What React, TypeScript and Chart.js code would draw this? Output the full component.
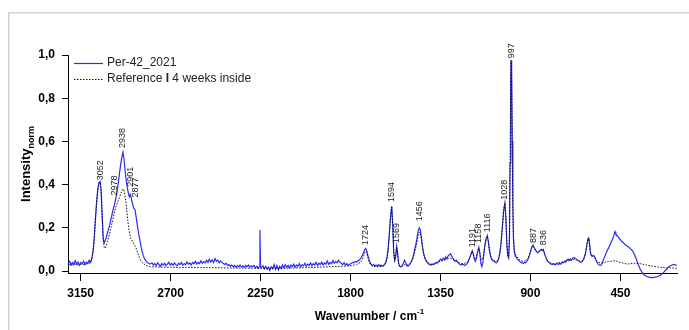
import React, { useEffect, useRef } from "react";
import { Chart, registerables } from "chart.js";

Chart.register(...registerables);

const FONT = "'Liberation Sans', Arial, Helvetica, sans-serif";

const xTickValues = [3150, 2700, 2250, 1800, 1350, 900, 450];
const yTickValues = [0, 0.2, 0.4, 0.6, 0.8, 1.0];
const seriesNames = ["Per-42_2021", "Reference I 4 weeks inside"];
const xAxisTitle = "Wavenumber / cm";
const xAxisTitleSup = "-1";
const yAxisTitle = "Intensity";
const yAxisTitleSub = "norm";

const peakWavenumbers = [3052, 2978, 2938, 2901, 2877, 1724, 1594, 1569, 1456, 1191, 1158, 1116, 1028, 997, 887, 836];
const peakLabelHeights = [0.42, 0.35, 0.57, 0.39, 0.34, 0.12, 0.32, 0.13, 0.23, 0.11, 0.13, 0.18, 0.33, 0.985, 0.13, 0.12];

const X_MIN = 167;
const X_MAX = 3213;
const Y_MIN = -0.009;
const Y_MAX = 1.0;

// Per-42_2021 (blue)
const perSpectrum: [number, number][] = [
  [3212, 0.035], [3205, 0.045], [3198, 0.028], [3191, 0.040], [3184, 0.030], [3177, 0.048], [3170, 0.032], [3163, 0.042],
  [3156, 0.027], [3149, 0.040], [3142, 0.034], [3135, 0.046], [3128, 0.030], [3121, 0.041], [3114, 0.036], [3107, 0.050],
  [3100, 0.040], [3094, 0.060], [3088, 0.090], [3082, 0.150], [3076, 0.240], [3070, 0.320], [3064, 0.380], [3058, 0.410],
  [3052, 0.415], [3047, 0.370], [3042, 0.260], [3037, 0.150], [3032, 0.130], [3027, 0.140], [3022, 0.155], [3016, 0.175],
  [3010, 0.195], [3004, 0.215], [2998, 0.240], [2992, 0.265], [2986, 0.290], [2980, 0.310], [2974, 0.335], [2968, 0.365],
  [2962, 0.405], [2956, 0.450], [2950, 0.490], [2944, 0.525], [2938, 0.550], [2933, 0.520], [2928, 0.470], [2922, 0.420],
  [2916, 0.385], [2911, 0.360], [2906, 0.345], [2901, 0.355], [2896, 0.335], [2890, 0.310], [2884, 0.290], [2878, 0.285],
  [2872, 0.250], [2866, 0.210], [2860, 0.175], [2854, 0.145], [2848, 0.115], [2842, 0.090], [2836, 0.070], [2830, 0.056],
  [2824, 0.048], [2817, 0.040], [2810, 0.036], [2803, 0.032], [2793, 0.038], [2786, 0.028], [2779, 0.035], [2772, 0.025],
  [2765, 0.038], [2758, 0.030], [2751, 0.022], [2744, 0.035], [2737, 0.028], [2730, 0.036], [2723, 0.025], [2716, 0.032],
  [2709, 0.040], [2702, 0.028], [2695, 0.035], [2688, 0.026], [2681, 0.038], [2674, 0.030], [2667, 0.024], [2660, 0.036],
  [2653, 0.030], [2646, 0.040], [2639, 0.027], [2632, 0.034], [2625, 0.030], [2618, 0.042], [2611, 0.032], [2604, 0.038],
  [2597, 0.028], [2590, 0.040], [2583, 0.034], [2576, 0.045], [2569, 0.032], [2562, 0.040], [2555, 0.035], [2548, 0.048],
  [2541, 0.036], [2534, 0.044], [2527, 0.038], [2520, 0.050], [2513, 0.040], [2506, 0.055], [2499, 0.042], [2492, 0.052],
  [2485, 0.040], [2478, 0.058], [2471, 0.045], [2464, 0.050], [2457, 0.038], [2450, 0.047], [2443, 0.040], [2436, 0.035],
  [2429, 0.030], [2422, 0.036], [2415, 0.025], [2408, 0.030], [2401, 0.022], [2394, 0.028], [2387, 0.020], [2380, 0.026],
  [2373, 0.018], [2366, 0.025], [2359, 0.020], [2352, 0.028], [2345, 0.019], [2338, 0.024], [2331, 0.017], [2324, 0.026],
  [2317, 0.020], [2310, 0.028], [2303, 0.018], [2296, 0.024], [2289, 0.020], [2282, 0.026], [2275, 0.015], [2268, 0.022],
  [2261, 0.012], [2256, 0.020], [2253, 0.190], [2250, 0.020], [2245, 0.015], [2238, 0.025], [2231, 0.010], [2224, 0.022],
  [2217, 0.008], [2210, 0.018], [2203, 0.003], [2196, 0.020], [2189, 0.010], [2182, 0.030], [2175, 0.008], [2168, 0.025],
  [2161, 0.005], [2154, 0.022], [2147, 0.012], [2140, 0.028], [2133, 0.015], [2126, 0.030], [2119, 0.018], [2112, 0.026],
  [2105, 0.014], [2098, 0.028], [2091, 0.020], [2084, 0.032], [2077, 0.018], [2070, 0.028], [2063, 0.022], [2056, 0.034],
  [2049, 0.020], [2042, 0.030], [2035, 0.024], [2028, 0.036], [2021, 0.022], [2014, 0.032], [2007, 0.026], [2000, 0.038],
  [1993, 0.024], [1986, 0.034], [1979, 0.028], [1972, 0.040], [1965, 0.026], [1958, 0.036], [1951, 0.030], [1944, 0.042],
  [1937, 0.028], [1930, 0.038], [1923, 0.032], [1916, 0.046], [1909, 0.030], [1902, 0.040], [1895, 0.034], [1888, 0.048],
  [1881, 0.036], [1874, 0.044], [1867, 0.038], [1860, 0.050], [1853, 0.040], [1846, 0.036], [1839, 0.030], [1832, 0.038],
  [1825, 0.028], [1818, 0.034], [1811, 0.026], [1804, 0.032], [1797, 0.035], [1790, 0.040], [1783, 0.038], [1776, 0.044],
  [1769, 0.042], [1762, 0.048], [1755, 0.052], [1748, 0.060], [1741, 0.072], [1735, 0.085], [1729, 0.098], [1724, 0.105],
  [1719, 0.095], [1714, 0.075], [1708, 0.055], [1702, 0.040], [1696, 0.030], [1690, 0.026], [1684, 0.030], [1678, 0.024],
  [1672, 0.028], [1666, 0.022], [1660, 0.030], [1654, 0.024], [1648, 0.028], [1642, 0.022], [1636, 0.026], [1630, 0.030],
  [1624, 0.040], [1618, 0.060], [1612, 0.100], [1606, 0.170], [1600, 0.250], [1594, 0.300], [1589, 0.220], [1584, 0.090],
  [1579, 0.050], [1574, 0.070], [1569, 0.115], [1564, 0.080], [1559, 0.035], [1554, 0.022], [1548, 0.020], [1542, 0.025],
  [1536, 0.035], [1530, 0.050], [1525, 0.040], [1519, 0.025], [1513, 0.022], [1507, 0.028], [1501, 0.035], [1495, 0.045],
  [1489, 0.060], [1484, 0.080], [1479, 0.100], [1474, 0.120], [1468, 0.150], [1462, 0.185], [1456, 0.200], [1451, 0.190],
  [1446, 0.160], [1441, 0.120], [1436, 0.090], [1431, 0.070], [1426, 0.055], [1420, 0.045], [1414, 0.038], [1408, 0.032],
  [1402, 0.030], [1396, 0.028], [1390, 0.032], [1384, 0.030], [1378, 0.035], [1372, 0.040], [1366, 0.038], [1360, 0.045],
  [1354, 0.050], [1348, 0.055], [1342, 0.048], [1336, 0.060], [1330, 0.052], [1324, 0.065], [1318, 0.058], [1312, 0.070],
  [1306, 0.075], [1300, 0.080], [1294, 0.070], [1288, 0.060], [1282, 0.052], [1276, 0.045], [1270, 0.050], [1264, 0.040],
  [1258, 0.035], [1252, 0.030], [1246, 0.028], [1240, 0.032], [1234, 0.030], [1228, 0.026], [1222, 0.030], [1216, 0.035],
  [1210, 0.045], [1204, 0.060], [1197, 0.080], [1191, 0.095], [1186, 0.080], [1181, 0.055], [1176, 0.045], [1170, 0.060],
  [1164, 0.090], [1158, 0.110], [1153, 0.080], [1148, 0.035], [1143, 0.020], [1138, 0.040], [1133, 0.080], [1128, 0.120],
  [1122, 0.150], [1116, 0.165], [1111, 0.140], [1106, 0.100], [1100, 0.070], [1094, 0.055], [1088, 0.048], [1082, 0.045],
  [1076, 0.040], [1070, 0.038], [1064, 0.045], [1058, 0.060], [1052, 0.090], [1046, 0.140], [1040, 0.210], [1034, 0.280],
  [1028, 0.315], [1023, 0.250], [1018, 0.120], [1013, 0.070], [1009, 0.060], [1005, 0.150], [1002, 0.500], [999, 0.850],
  [997, 0.975], [994, 0.900], [991, 0.600], [988, 0.300], [985, 0.150], [981, 0.090], [976, 0.070], [971, 0.065],
  [966, 0.055], [960, 0.050], [954, 0.045], [948, 0.040], [942, 0.038], [936, 0.035], [930, 0.040], [924, 0.038],
  [918, 0.045], [912, 0.055], [906, 0.070], [900, 0.090], [894, 0.110], [887, 0.120], [882, 0.110], [876, 0.100],
  [870, 0.090], [864, 0.085], [858, 0.090], [852, 0.095], [846, 0.100], [841, 0.095], [836, 0.100], [831, 0.085],
  [826, 0.070], [820, 0.055], [814, 0.045], [808, 0.040], [802, 0.035], [796, 0.032], [790, 0.030], [784, 0.034],
  [778, 0.028], [772, 0.032], [766, 0.036], [760, 0.030], [754, 0.036], [748, 0.032], [742, 0.040], [736, 0.038],
  [730, 0.045], [724, 0.040], [718, 0.050], [712, 0.055], [706, 0.048], [700, 0.056], [694, 0.052], [688, 0.060],
  [682, 0.063], [676, 0.058], [670, 0.055], [664, 0.050], [658, 0.046], [652, 0.042], [646, 0.040], [640, 0.045],
  [634, 0.055], [628, 0.070], [622, 0.095], [617, 0.125], [612, 0.150], [608, 0.152], [604, 0.120], [600, 0.085],
  [596, 0.072], [591, 0.068], [586, 0.072], [580, 0.068], [574, 0.055], [568, 0.042], [562, 0.032], [556, 0.028],
  [550, 0.026], [546, 0.028], [540, 0.040], [534, 0.055], [528, 0.068], [522, 0.082], [516, 0.095], [510, 0.105],
  [504, 0.118], [498, 0.130], [492, 0.142], [486, 0.155], [481, 0.170], [477, 0.182], [473, 0.172], [468, 0.165],
  [462, 0.160], [456, 0.150], [450, 0.145], [444, 0.138], [438, 0.133], [432, 0.128], [426, 0.122], [420, 0.118],
  [414, 0.115], [408, 0.110], [402, 0.105], [396, 0.100], [390, 0.095], [384, 0.085], [378, 0.072], [372, 0.058],
  [366, 0.042], [360, 0.028], [354, 0.015], [348, 0.004], [342, -0.006], [336, -0.013], [330, -0.018], [324, -0.022],
  [318, -0.025], [312, -0.027], [306, -0.028], [300, -0.029], [294, -0.030], [288, -0.030], [282, -0.029], [276, -0.028],
  [270, -0.027], [264, -0.025], [258, -0.023], [252, -0.020], [246, -0.016], [240, -0.012], [234, -0.006], [228, 0.000],
  [222, 0.006], [216, 0.012], [210, 0.018], [204, 0.022], [198, 0.026], [192, 0.028], [186, 0.030], [180, 0.030],
  [174, 0.028], [168, 0.026],
];

// Reference I 4 weeks inside (black dotted)
const referenceSpectrum: [number, number][] = [
  [3212, 0.030], [3195, 0.028], [3180, 0.032], [3165, 0.029], [3150, 0.031], [3135, 0.030], [3120, 0.033], [3108, 0.036],
  [3100, 0.040], [3094, 0.055], [3088, 0.085], [3082, 0.140], [3076, 0.230], [3070, 0.310], [3064, 0.370], [3058, 0.405],
  [3052, 0.410], [3047, 0.360], [3042, 0.240], [3037, 0.150], [3032, 0.110], [3027, 0.105], [3022, 0.115], [3016, 0.135],
  [3010, 0.155], [3004, 0.175], [2998, 0.200], [2992, 0.225], [2986, 0.250], [2980, 0.275], [2974, 0.295], [2968, 0.310],
  [2962, 0.325], [2956, 0.340], [2950, 0.355], [2944, 0.370], [2938, 0.380], [2933, 0.375], [2928, 0.350], [2922, 0.310],
  [2916, 0.255], [2910, 0.200], [2904, 0.170], [2898, 0.150], [2892, 0.140], [2886, 0.130], [2880, 0.120], [2874, 0.110],
  [2868, 0.095], [2862, 0.078], [2856, 0.062], [2850, 0.050], [2844, 0.042], [2836, 0.035], [2826, 0.028], [2815, 0.024],
  [2800, 0.020], [2780, 0.020], [2740, 0.018], [2700, 0.017], [2650, 0.016], [2600, 0.017], [2550, 0.016], [2500, 0.016],
  [2450, 0.015], [2400, 0.014], [2350, 0.014], [2300, 0.013], [2250, 0.013], [2200, 0.013], [2150, 0.013], [2100, 0.014],
  [2050, 0.015], [2000, 0.016], [1950, 0.018], [1900, 0.020], [1850, 0.022], [1810, 0.024], [1790, 0.026], [1770, 0.030],
  [1750, 0.040], [1740, 0.055], [1734, 0.070], [1729, 0.085], [1724, 0.092], [1719, 0.085], [1714, 0.065], [1708, 0.045],
  [1702, 0.032], [1695, 0.025], [1685, 0.022], [1670, 0.020], [1655, 0.020], [1640, 0.022], [1630, 0.026], [1624, 0.035],
  [1618, 0.055], [1612, 0.095], [1606, 0.165], [1600, 0.245], [1594, 0.295], [1589, 0.215], [1584, 0.085], [1579, 0.045],
  [1574, 0.065], [1569, 0.110], [1564, 0.075], [1559, 0.032], [1554, 0.022], [1545, 0.020], [1536, 0.025], [1528, 0.030],
  [1520, 0.028], [1510, 0.028], [1500, 0.035], [1492, 0.048], [1485, 0.065], [1478, 0.090], [1472, 0.115], [1466, 0.140],
  [1461, 0.165], [1456, 0.180], [1451, 0.175], [1446, 0.150], [1441, 0.115], [1436, 0.085], [1430, 0.065], [1424, 0.052],
  [1416, 0.042], [1408, 0.036], [1400, 0.032], [1390, 0.032], [1380, 0.034], [1370, 0.036], [1360, 0.040], [1350, 0.045],
  [1340, 0.048], [1330, 0.052], [1320, 0.055], [1310, 0.058], [1300, 0.058], [1290, 0.055], [1280, 0.050], [1270, 0.045],
  [1260, 0.040], [1250, 0.036], [1240, 0.035], [1230, 0.036], [1220, 0.040], [1212, 0.048], [1205, 0.060], [1198, 0.075],
  [1191, 0.090], [1186, 0.078], [1181, 0.060], [1176, 0.055], [1170, 0.065], [1164, 0.090], [1158, 0.105], [1153, 0.085],
  [1148, 0.060], [1143, 0.052], [1138, 0.060], [1133, 0.085], [1128, 0.115], [1122, 0.145], [1116, 0.160], [1111, 0.140],
  [1106, 0.105], [1100, 0.075], [1094, 0.060], [1088, 0.052], [1080, 0.048], [1072, 0.046], [1064, 0.050], [1058, 0.062],
  [1052, 0.090], [1046, 0.140], [1040, 0.210], [1034, 0.280], [1028, 0.315], [1023, 0.250], [1018, 0.125], [1013, 0.075],
  [1009, 0.065], [1005, 0.150], [1002, 0.500], [999, 0.850], [997, 0.975], [994, 0.900], [991, 0.600], [988, 0.300],
  [985, 0.160], [981, 0.100], [976, 0.080], [971, 0.072], [966, 0.065], [960, 0.058], [954, 0.052], [948, 0.048],
  [942, 0.046], [936, 0.045], [930, 0.046], [924, 0.048], [918, 0.052], [912, 0.060], [906, 0.072], [900, 0.088],
  [894, 0.105], [887, 0.115], [882, 0.108], [876, 0.098], [870, 0.090], [864, 0.085], [858, 0.088], [852, 0.092],
  [846, 0.098], [841, 0.094], [836, 0.098], [831, 0.085], [826, 0.072], [820, 0.058], [814, 0.048], [808, 0.042],
  [800, 0.038], [790, 0.035], [780, 0.034], [770, 0.036], [760, 0.038], [750, 0.040], [740, 0.042], [730, 0.045],
  [720, 0.048], [710, 0.050], [700, 0.050], [690, 0.052], [680, 0.055], [670, 0.052], [660, 0.048], [650, 0.045],
  [640, 0.048], [634, 0.056], [628, 0.072], [622, 0.098], [617, 0.128], [612, 0.152], [608, 0.155], [604, 0.125],
  [600, 0.090], [596, 0.075], [591, 0.070], [586, 0.072], [580, 0.065], [574, 0.055], [568, 0.045], [560, 0.040],
  [550, 0.038], [540, 0.038], [530, 0.040], [520, 0.042], [510, 0.044], [500, 0.045], [490, 0.046], [480, 0.048],
  [470, 0.046], [460, 0.042], [450, 0.040], [440, 0.038], [430, 0.035], [420, 0.033], [410, 0.033], [400, 0.034],
  [390, 0.035], [380, 0.036], [370, 0.036], [360, 0.035], [350, 0.034], [340, 0.032], [330, 0.030], [320, 0.028],
  [310, 0.026], [300, 0.024], [290, 0.022], [280, 0.021], [270, 0.020], [260, 0.019], [250, 0.018], [240, 0.017],
  [230, 0.016], [220, 0.015], [210, 0.015], [200, 0.014], [190, 0.014], [180, 0.013], [168, 0.013],
];

const BLUE = "#2a2aff";
const BLACK = "#111111";

const decorPlugin = {
  id: "decor",
  beforeDraw(chart: any) {
    const ctx = chart.ctx;
    ctx.save();
    ctx.fillStyle = "#ffffff";
    ctx.fillRect(0, 0, chart.width, chart.height);
    ctx.lineWidth = 1;
    ctx.strokeStyle = "#cfcfcf";
    ctx.beginPath();
    ctx.moveTo(8.5, chart.height);
    ctx.lineTo(8.5, 12.5);
    ctx.lineTo(chart.width, 12.5);
    ctx.stroke();
    ctx.strokeStyle = "#ebebeb";
    ctx.beginPath();
    ctx.moveTo(9.5, chart.height);
    ctx.lineTo(9.5, 13.5);
    ctx.lineTo(chart.width, 13.5);
    ctx.stroke();
    ctx.restore();
  },
  afterDraw(chart: any) {
    const ctx = chart.ctx;
    const x = chart.scales.x;
    const y = chart.scales.y;
    const area = chart.chartArea;

    // peak labels
    ctx.save();
    ctx.font = `9px ${FONT}`;
    ctx.fillStyle = "#222222";
    ctx.textAlign = "left";
    ctx.textBaseline = "middle";
    peakWavenumbers.forEach((wn, i) => {
      const px = x.getPixelForValue(wn);
      const py = y.getPixelForValue(peakLabelHeights[i]);
      ctx.save();
      ctx.translate(px, py);
      ctx.rotate(-Math.PI / 2);
      ctx.fillText(String(wn), 0, 0);
      ctx.restore();
    });
    ctx.restore();

    // legend
    ctx.save();
    const lx0 = 74;
    const lx1 = 103;
    const tx = 107;
    const row1 = 63;
    const row2 = 79;
    ctx.strokeStyle = BLUE;
    ctx.lineWidth = 1.2;
    ctx.beginPath();
    ctx.moveTo(lx0, row1 + 0.5);
    ctx.lineTo(lx1, row1 + 0.5);
    ctx.stroke();
    ctx.strokeStyle = BLACK;
    ctx.lineWidth = 1;
    ctx.setLineDash([1.5, 1.5]);
    ctx.beginPath();
    ctx.moveTo(lx0, row2 + 0.5);
    ctx.lineTo(lx1, row2 + 0.5);
    ctx.stroke();
    ctx.setLineDash([]);
    ctx.fillStyle = "#222222";
    ctx.textAlign = "left";
    ctx.textBaseline = "middle";
    ctx.font = `12px ${FONT}`;
    ctx.fillText(seriesNames[0], tx, row1);
    const name2 = seriesNames[1];
    const sepIdx = name2.indexOf(" I ");
    const partA = name2.slice(0, sepIdx + 1);
    const partB = "I";
    const partC = name2.slice(sepIdx + 2);
    let cx = tx;
    ctx.font = `12px ${FONT}`;
    ctx.fillText(partA, cx, row2);
    cx += ctx.measureText(partA).width;
    ctx.font = `bold 12px ${FONT}`;
    ctx.fillText(partB, cx, row2);
    cx += ctx.measureText(partB).width;
    ctx.font = `12px ${FONT}`;
    ctx.fillText(partC, cx, row2);
    ctx.restore();

    // y axis title
    ctx.save();
    ctx.fillStyle = "#000000";
    ctx.translate(25, (area.top + area.bottom) / 2);
    ctx.rotate(-Math.PI / 2);
    ctx.textAlign = "left";
    ctx.textBaseline = "alphabetic";
    ctx.font = `bold 13px ${FONT}`;
    const w1 = ctx.measureText(yAxisTitle).width;
    ctx.font = `bold 9px ${FONT}`;
    const w2 = ctx.measureText(yAxisTitleSub).width;
    const start = -(w1 + w2) / 2;
    ctx.font = `bold 13px ${FONT}`;
    ctx.fillText(yAxisTitle, start, 5);
    ctx.font = `bold 9px ${FONT}`;
    ctx.fillText(yAxisTitleSub, start + w1, 8.5);
    ctx.restore();

    // x axis title
    ctx.save();
    ctx.fillStyle = "#000000";
    ctx.textAlign = "left";
    ctx.textBaseline = "alphabetic";
    ctx.font = `bold 12px ${FONT}`;
    const m1 = ctx.measureText(xAxisTitle).width;
    ctx.font = `bold 8px ${FONT}`;
    const m2 = ctx.measureText(xAxisTitleSup).width;
    const sx = (area.left + area.right) / 2 - (m1 + m2) / 2 - 3;
    ctx.font = `bold 12px ${FONT}`;
    ctx.fillText(xAxisTitle, sx, 320);
    ctx.font = `bold 8px ${FONT}`;
    ctx.fillText(xAxisTitleSup, sx + m1, 314);
    ctx.restore();
  },
};

export default function App() {
  const canvasRef = useRef<HTMLCanvasElement | null>(null);

  useEffect(() => {
    const canvas = canvasRef.current;
    if (!canvas) return;
    const tickFont = { family: FONT, size: 12, weight: "bold" as const };
    const chart = new Chart(canvas, {
      type: "line",
      data: {
        datasets: [
          {
            label: seriesNames[1],
            data: referenceSpectrum.map(([wx, wy]) => ({ x: wx, y: wy })),
            borderColor: BLACK,
            borderWidth: 1,
            borderDash: [1.5, 1.5],
            pointRadius: 0,
            tension: 0,
            order: 0,
            clip: false as any,
          },
          {
            label: seriesNames[0],
            data: perSpectrum.map(([wx, wy]) => ({ x: wx, y: wy })),
            borderColor: BLUE,
            borderWidth: 1.2,
            pointRadius: 0,
            tension: 0,
            order: 1,
            clip: false as any,
          },
        ],
      },
      options: {
        responsive: false,
        animation: false,
        devicePixelRatio: 1,
        layout: { padding: { top: 55, right: 12, left: 0, bottom: 0 } },
        plugins: {
          legend: { display: false },
          tooltip: { enabled: false },
          title: { display: false },
        },
        scales: {
          x: {
            type: "linear",
            reverse: true,
            min: X_MIN,
            max: X_MAX,
            afterFit: (s: any) => {
              s.height = 57;
            },
            afterBuildTicks: (s: any) => {
              s.ticks = xTickValues.map((v) => ({ value: v }));
            },
            grid: {
              display: true,
              drawOnChartArea: false,
              drawTicks: true,
              tickLength: 8,
              color: "#000000",
              lineWidth: 1,
            },
            border: { display: true, color: "#000000", width: 1 },
            ticks: {
              font: tickFont,
              color: "#000000",
              padding: 5,
              maxRotation: 0,
              autoSkip: false,
              callback: (v: any) => String(v),
            },
          },
          y: {
            type: "linear",
            min: Y_MIN,
            max: Y_MAX,
            afterFit: (s: any) => {
              s.width = 68;
            },
            afterBuildTicks: (s: any) => {
              s.ticks = yTickValues.map((v) => ({ value: v }));
            },
            grid: {
              display: true,
              drawOnChartArea: false,
              drawTicks: true,
              tickLength: 6,
              color: "#000000",
              lineWidth: 1,
            },
            border: { display: true, color: "#000000", width: 1 },
            ticks: {
              font: tickFont,
              color: "#000000",
              padding: 7,
              callback: (v: any) => Number(v).toFixed(1).replace(".", ","),
            },
          },
        },
      },
      plugins: [decorPlugin],
    } as any);
    return () => {
      chart.destroy();
    };
  }, []);

  return (
    <div style={{ position: "fixed", left: 0, top: 0, width: 689, height: 330, background: "#fff" }}>
      <canvas ref={canvasRef} width={689} height={330} style={{ width: 689, height: 330, display: "block" }} />
    </div>
  );
}
